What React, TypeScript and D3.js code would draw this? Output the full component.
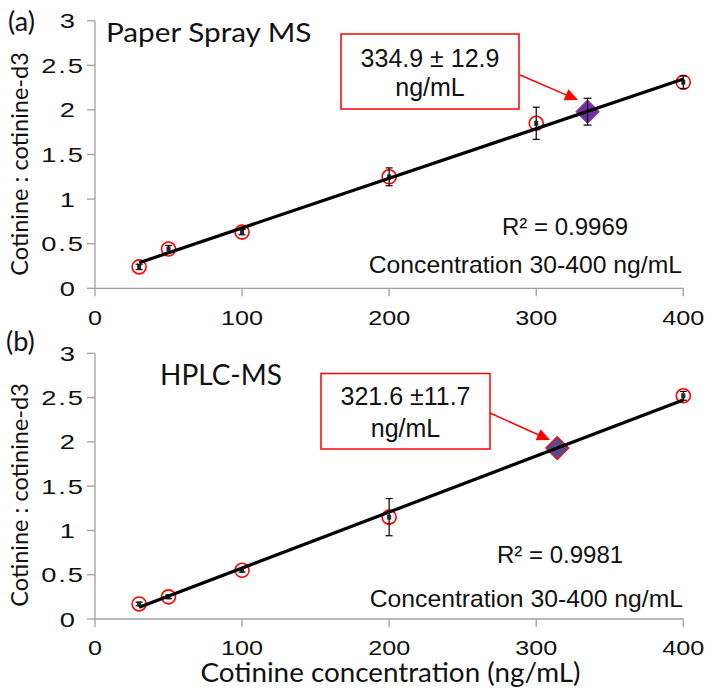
import React from "react";
import * as d3 from "d3";

// ---------- data ----------
const concA = [30, 50, 100, 200, 300, 400];
const ratioA = [0.24, 0.44, 0.63, 1.25, 1.85, 2.31];
const errA = [0.03, 0.04, 0.03, 0.1, 0.18, 0.07];
const unknownA = [334.9, 1.98, 0.15]; // x, y, err
const trendA = [0.005565, 0.12]; // slope, intercept
const labelA = ["334.9 ± 12.9", "ng/mL"];
const r2A = "R² = 0.9969";

const concB = [30, 50, 100, 200, 400];
const ratioB = [0.17, 0.25, 0.55, 1.15, 2.52];
const errB = [0.02, 0.02, 0.02, 0.21, 0.05];
const unknownB = [314.3, 1.93, 0.0];
const trendB = [0.006327, -0.058];
const labelB = ["321.6 ±11.7", "ng/mL"];
const r2B = "R² = 0.9981";

const xTicks = [0, 100, 200, 300, 400];
const yTicks = [0, 0.5, 1, 1.5, 2, 2.5, 3];
const rangeLabel = "Concentration 30-400 ng/mL";
const yTitle = "Cotinine : cotinine-d3";
const xTitle = "Cotinine concentration (ng/mL)";

const SANS = "'Liberation Sans', Arial, sans-serif";
const CAL = "Lato, 'Open Sans', sans-serif";
const AXIS = "#a0a0a0";

function T(props: {
  x: number;
  y: number;
  sx?: number;
  rot?: number;
  anchor?: string;
  font: string;
  size: number;
  ls?: number;
  dy?: string;
  children: React.ReactNode;
}) {
  const { x, y, sx = 1, rot = 0, anchor = "start", font, size, ls = 0, dy } = props;
  return (
    <text
      transform={`translate(${x},${y})${rot ? ` rotate(${rot})` : ""} scale(${sx},1)`}
      textAnchor={anchor}
      fontFamily={font}
      fontSize={size}
      letterSpacing={ls}
      dy={dy}
      fill="#111"
    >
      {props.children}
    </text>
  );
}

type PanelProps = {
  y0: number;
  y3: number;
  conc: number[];
  ratio: number[];
  err: number[];
  unknown: number[];
  trend: number[];
  diamondFill: string;
  diamondStroke: string;
  box: { x: number; y: number; w: number; h: number; cx: number; b1: number; b2: number };
  label: string[];
  arrow: number[];
  r2: string;
  r2Pos: number[];
  rangePos: number[];
  title: string;
  titlePos: number[];
  titleSize: number;
  titleSx: number;
  tag: string;
  tagPos: number[];
  yTitleCy: number;
  xLabelY: number;
};

function Panel(p: PanelProps) {
  const x = d3.scaleLinear().domain([0, 400]).range([95, 683.3]);
  const y = d3.scaleLinear().domain([0, 3]).range([p.y0, p.y3]);
  const line = d3
    .line<number>()
    .x((v) => x(v))
    .y((v) => y(p.trend[0] * v + p.trend[1]));
  const lx = [p.conc[0], p.conc[p.conc.length - 1]];
  const dsz = 11.5;
  const ux = x(p.unknown[0]);
  const uy = y(p.unknown[1]);
  const [ax1, ay1, ax2, ay2] = p.arrow;
  const ang = Math.atan2(ay2 - ay1, ax2 - ax1);
  const hl = 13,
    hw = 6;
  const head = [
    [ax2, ay2],
    [ax2 - hl * Math.cos(ang) + hw * Math.sin(ang), ay2 - hl * Math.sin(ang) - hw * Math.cos(ang)],
    [ax2 - hl * Math.cos(ang) - hw * Math.sin(ang), ay2 - hl * Math.sin(ang) + hw * Math.cos(ang)],
  ];
  return (
    <g>
      {/* axes */}
      <line x1={95} x2={95} y1={y(3)} y2={y(0)} stroke={AXIS} strokeWidth={1.3} />
      <line x1={95} x2={x(400)} y1={y(0)} y2={y(0)} stroke={AXIS} strokeWidth={1.3} />
      {yTicks.map((t) => (
        <g key={"y" + t}>
          <line x1={87} x2={95} y1={y(t)} y2={y(t)} stroke={AXIS} strokeWidth={1.3} />
          <T
            x={Number.isInteger(t) ? 75 : 85}
            y={y(t)}
            dy="0.36em"
            anchor="end"
            font={SANS}
            size={21}
            sx={1.3}
            ls={Number.isInteger(t) ? 0 : 1.5}
          >
            {t}
          </T>
        </g>
      ))}
      {xTicks.map((t) => (
        <g key={"x" + t}>
          <line x1={x(t)} x2={x(t)} y1={y(0)} y2={y(0) + 8} stroke={AXIS} strokeWidth={1.3} />
          <T x={x(t)} y={p.xLabelY} anchor="middle" font={SANS} size={21} sx={1.2}>
            {t}
          </T>
        </g>
      ))}
      {/* y title */}
      <T x={28} y={p.yTitleCy} rot={-90} anchor="middle" font={CAL} size={23.5} sx={1.0}>
        {yTitle}
      </T>
      {/* tag & title */}
      <T x={p.tagPos[0]} y={p.tagPos[1]} font={CAL} size={27}>
        {p.tag}
      </T>
      <T x={p.titlePos[0]} y={p.titlePos[1]} font={CAL} size={p.titleSize} sx={p.titleSx}>
        {p.title}
      </T>
      {/* points */}
      {p.conc.map((c, i) => (
        <g key={"p" + i}>
          <circle cx={x(c)} cy={y(p.ratio[i])} r={7} fill="none" stroke="#ff0000" strokeWidth={1.6} />
          <line x1={x(c)} x2={x(c)} y1={y(p.ratio[i] - p.err[i])} y2={y(p.ratio[i] + p.err[i])} stroke="#000" strokeWidth={1.2} />
          <line x1={x(c) - 3.5} x2={x(c) + 3.5} y1={y(p.ratio[i] - p.err[i])} y2={y(p.ratio[i] - p.err[i])} stroke="#000" strokeWidth={1.2} />
          <line x1={x(c) - 3.5} x2={x(c) + 3.5} y1={y(p.ratio[i] + p.err[i])} y2={y(p.ratio[i] + p.err[i])} stroke="#000" strokeWidth={1.2} />
          <rect x={x(c) - 2} y={y(p.ratio[i]) - 2.5} width={4} height={5} fill="#222" />
        </g>
      ))}
      {/* unknown diamond */}
      <path
        d={`M${ux},${uy - dsz}L${ux + dsz},${uy}L${ux},${uy + dsz}L${ux - dsz},${uy}Z`}
        fill={p.diamondFill}
        stroke={p.diamondStroke}
        strokeWidth={1.2}
      />
      {p.unknown[2] > 0 && (
        <g stroke="#000" strokeWidth={1.2}>
          <line x1={ux} x2={ux} y1={y(p.unknown[1] - p.unknown[2])} y2={y(p.unknown[1] + p.unknown[2])} />
          <line x1={ux - 4} x2={ux + 4} y1={y(p.unknown[1] - p.unknown[2])} y2={y(p.unknown[1] - p.unknown[2])} />
          <line x1={ux - 4} x2={ux + 4} y1={y(p.unknown[1] + p.unknown[2])} y2={y(p.unknown[1] + p.unknown[2])} />
        </g>
      )}
      {/* trend line */}
      <path d={line(lx) || ""} fill="none" stroke="#000" strokeWidth={3.2} />
      {/* annotation box */}
      <rect x={p.box.x} y={p.box.y} width={p.box.w} height={p.box.h} fill="#fff" stroke="#ff0000" strokeWidth={1.5} />
      <T x={p.box.cx} y={p.box.b1} anchor="middle" font={SANS} size={25}>
        {p.label[0]}
      </T>
      <T x={p.box.cx} y={p.box.b2} anchor="middle" font={SANS} size={25}>
        {p.label[1]}
      </T>
      <line
        x1={ax1}
        y1={ay1}
        x2={ax2 - (hl - 2) * Math.cos(ang)}
        y2={ay2 - (hl - 2) * Math.sin(ang)}
        stroke="#ff0000"
        strokeWidth={1.5}
      />
      <path d={`M${head.map((h) => h.join(",")).join("L")}Z`} fill="#ff0000" />
      {/* R2 & range */}
      <T x={p.r2Pos[0]} y={p.r2Pos[1]} font={SANS} size={24}>
        {p.r2}
      </T>
      <T x={p.rangePos[0]} y={p.rangePos[1]} anchor="end" font={SANS} size={24} sx={1.03}>
        {rangeLabel}
      </T>
    </g>
  );
}

export default function App() {
  return (
    <svg width={714} height={696} style={{ position: "absolute", left: 0, top: 0, background: "#fff" }}>
      <rect width={714} height={696} fill="#fff" />
      <Panel
        y0={288.3}
        y3={20.7}
        conc={concA}
        ratio={ratioA}
        err={errA}
        unknown={unknownA}
        trend={trendA}
        diamondFill="#7030a0"
        diamondStroke="#7a3aa8"
        box={{ x: 341, y: 34, w: 178, h: 75, cx: 430, b1: 67, b2: 96 }}
        label={labelA}
        arrow={[520, 75, 578, 100]}
        r2={r2A}
        r2Pos={[502, 235]}
        rangePos={[682, 273]}
        title="Paper Spray MS"
        titlePos={[106, 42]}
        titleSize={27}
        titleSx={1.1}
        tag="(a)"
        tagPos={[8, 31]}
        yTitleCy={164}
        xLabelY={325}
      />
      <Panel
        y0={619}
        y3={353.3}
        conc={concB}
        ratio={ratioB}
        err={errB}
        unknown={unknownB}
        trend={trendB}
        diamondFill="#5b4a8b"
        diamondStroke="#ff0000"
        box={{ x: 321, y: 373.5, w: 169, h: 75.5, cx: 405.5, b1: 405, b2: 436.5 }}
        label={labelB}
        arrow={[490, 413, 550, 440]}
        r2={r2B}
        r2Pos={[497, 563]}
        rangePos={[683, 607]}
        title="HPLC-MS"
        titlePos={[160, 385]}
        titleSize={28}
        titleSx={1.0}
        tag="(b)"
        tagPos={[6, 351]}
        yTitleCy={495}
        xLabelY={655}
      />
      <T x={390.5} y={682} anchor="middle" font={CAL} size={26} sx={1.07}>
        {xTitle}
      </T>
    </svg>
  );
}
